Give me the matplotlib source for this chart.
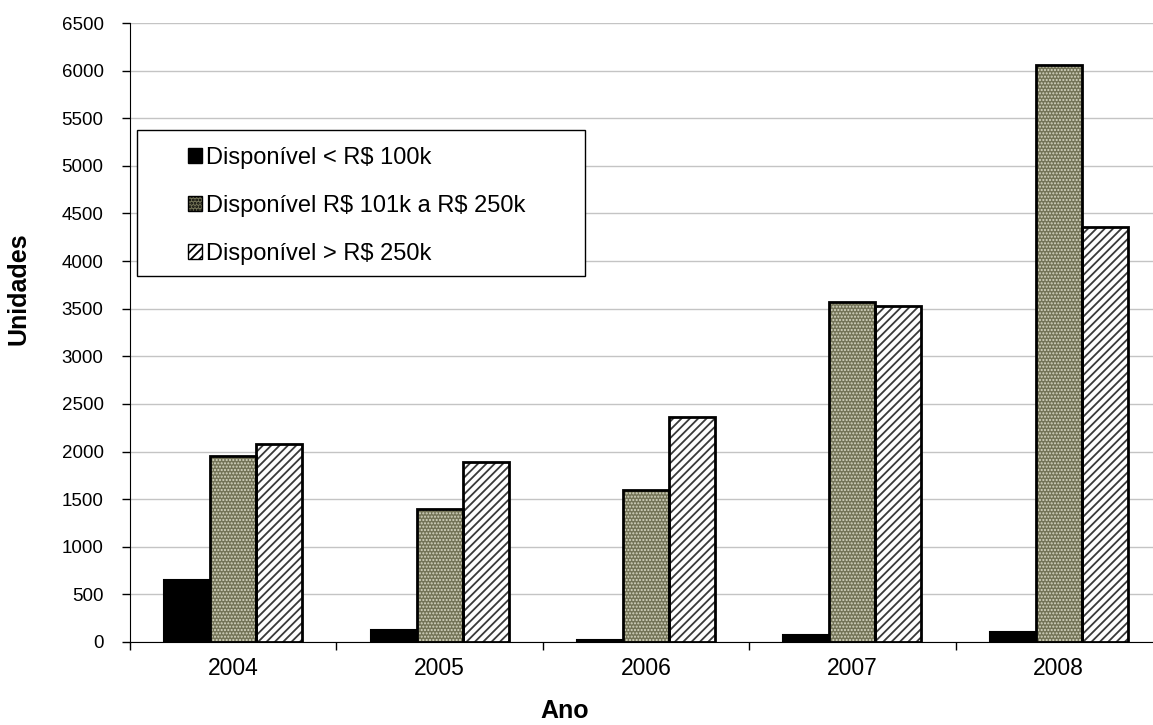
import matplotlib
matplotlib.use("Agg")
import matplotlib.pyplot as plt
from matplotlib.patches import Patch, Rectangle
import numpy as np

plt.rcParams['font.family'] = ['Liberation Sans', 'DejaVu Sans']
plt.rcParams['text.parse_math'] = False

years = ["2004", "2005", "2006", "2007", "2008"]
series_names = ["Disponível < R$ 100k", "Disponível R$ 101k a R$ 250k", "Disponível > R$ 250k"]
low = [655, 125, 20, 70, 100]
mid = [1950, 1400, 1595, 3570, 6060]
high = [2075, 1890, 2365, 3530, 4360]
yticks = list(range(0, 6501, 500))

fig = plt.figure(figsize=(11.53, 7.25), dpi=100)
ax = fig.add_axes([130/1153, 83/725, 1032/1153, 619/725])

x = np.arange(len(years))
w = 0.223

plt.rcParams['hatch.linewidth'] = 1.0
# series 1: black
ax.bar(x - w, low, w, color='black', edgecolor='black', linewidth=1.5, zorder=3)
# series 2: olive dotted pattern
ax.bar(x, mid, w, color='#737357', edgecolor='#d8d8c4', linewidth=0, hatch='.....', zorder=3)
ax.bar(x, mid, w, color='none', edgecolor='black', linewidth=2, zorder=4)
# series 3: diagonal hatch
plt.rcParams['hatch.linewidth'] = 1.3
ax.bar(x + w, high, w, color='white', edgecolor='#3a3a3a', linewidth=0, hatch='////', zorder=3)
ax.bar(x + w, high, w, color='none', edgecolor='black', linewidth=2, zorder=4)

ax.set_xlim(-0.5, len(years) - 0.5)
ax.set_ylim(0, 6500)
ax.set_yticks(yticks)
ax.set_yticklabels([str(v) for v in yticks], fontsize=13.5)
ax.yaxis.grid(True, color='#c4c4c4', linewidth=1)
ax.set_axisbelow(True)

ax.set_xticks(x)
ax.set_xticklabels(years, fontsize=16.5)
ax.set_xticks(np.arange(-0.5, len(years), 1), minor=True)
ax.tick_params(axis='x', which='major', length=0, pad=11)
ax.tick_params(axis='x', which='minor', length=6, width=1, color='black')
ax.tick_params(axis='y', length=6, width=1, color='black', pad=13)

for s in ['top', 'right']:
    ax.spines[s].set_visible(False)
ax.spines['left'].set_color('black')
ax.spines['bottom'].set_color('black')

fig.text(565/1153, 1 - 711/725, 'Ano', fontsize=18, fontweight='bold', ha='center', va='center')
fig.text(19/1153, 1 - 289/725, 'Unidades', fontsize=18, fontweight='bold', ha='center', va='center', rotation=90)

# legend box
fig.patches.append(Rectangle((137/1153, 1 - 276/725), (585-137)/1153, (276-130)/725,
                             transform=fig.transFigure, facecolor='white', edgecolor='black',
                             linewidth=1, zorder=5))
handles = [
    Patch(facecolor='black', edgecolor='black'),
    Patch(facecolor='#737357', edgecolor='black', hatch='.....'),
    Patch(facecolor='white', edgecolor='black', hatch='////'),
]
leg = fig.legend(handles, series_names, loc='upper left', bbox_to_anchor=(176/1153, 1 - 135/725),
                 frameon=False, fontsize=17, handlelength=0.6, handleheight=0.6,
                 handletextpad=0.15, labelspacing=1.1, borderpad=0)
leg.set_zorder(6)

fig.savefig('out.png', dpi=100)
